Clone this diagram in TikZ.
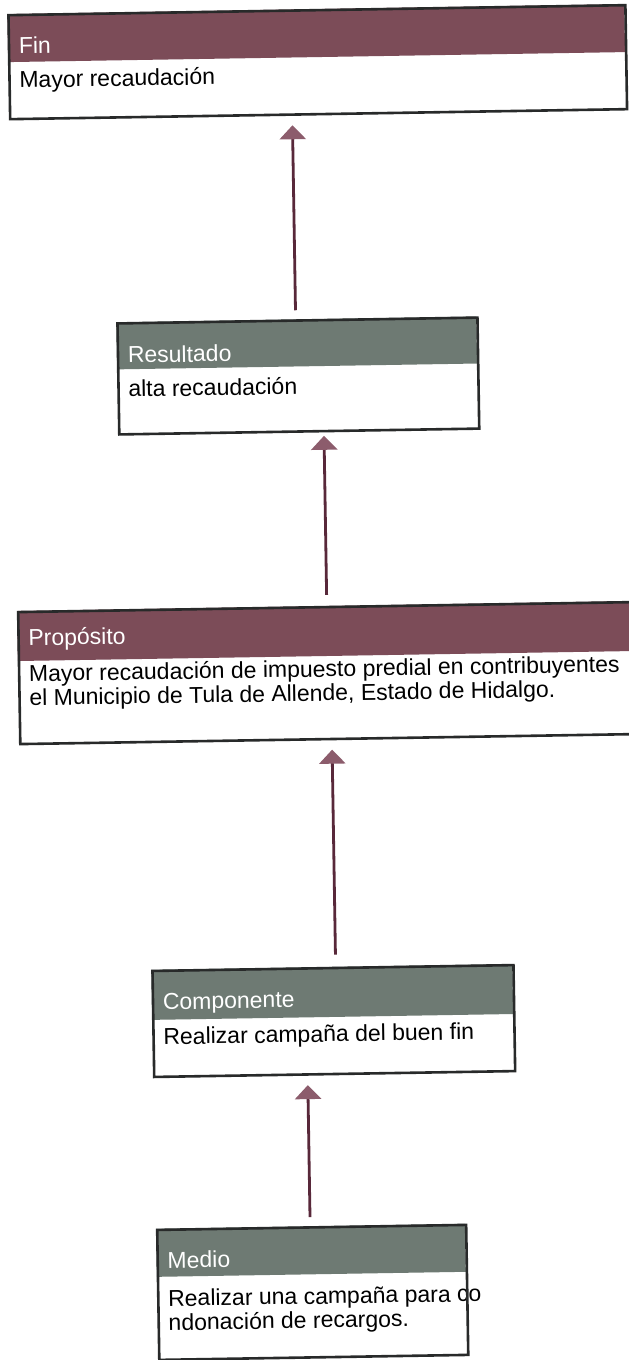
\documentclass[tikz,border=0pt]{standalone}
\usepackage{fontspec}
\setmainfont{Liberation Sans}
\usetikzlibrary{arrows.meta}
\definecolor{hdrmaroon}{RGB}{124,76,88}
\definecolor{hdrgray}{RGB}{110,122,115}
\definecolor{boxline}{RGB}{40,42,42}
\definecolor{arrline}{RGB}{88,40,58}
\definecolor{arrhead}{RGB}{140,92,108}
\begin{document}
\begin{tikzpicture}[x=1pt,y=1pt,
 boxframe/.style={draw=boxline, line width=2.6pt, rectangle, inner sep=0pt, anchor=north west},
 hdrm/.style={fill=hdrmaroon, rectangle, inner sep=0pt, anchor=north west},
 hdrg/.style={fill=hdrgray, rectangle, inner sep=0pt, anchor=north west},
 hdtext/.style={text=white, font=\fontsize{23}{24}\selectfont, inner sep=0pt, anchor=base west},
 bodytext/.style={text=black, font=\fontsize{23}{24}\selectfont, inner sep=0pt, anchor=base west, align=left},
 arrowline/.style={draw=arrline, line width=2.8pt, -{Triangle[length=14pt,width=26pt,color=arrhead]}}
]
\useasboundingbox (0,0) rectangle (629,-1360);
\fill[white] (0,0) rectangle (629,-1360);
\begin{scope}[rotate around={0.93:(314,-680)}, transform shape]
% Fin
\node[hdrm, minimum width=617pt, minimum height=48pt] (finh) at (18,-9) {};
\node[boxframe, minimum width=617pt, minimum height=104pt] (fin) at (18,-9) {};
\node[hdtext] (fint) at (29,-49) {Fin};
\node[bodytext] (finb) at (29,-83) {Mayor recaudación};
% Resultado
\node[hdrg, minimum width=360pt, minimum height=47pt] (resh) at (122,-319) {};
\node[boxframe, minimum width=360pt, minimum height=111pt] (res) at (122,-319) {};
\node[hdtext] (rest) at (133,-360) {Resultado};
\node[bodytext] (resb) at (133,-394) {alta recaudación};
% Proposito (anchor at baseline of last line)
\node[hdrm, minimum width=642pt, minimum height=50pt] (proh) at (18,-606) {};
\node[boxframe, minimum width=642pt, minimum height=132pt] (pro) at (18,-606) {};
\node[hdtext] (prot) at (29,-641) {Propósito};
\node[bodytext] (prob) at (29,-701) {Mayor recaudación de impuesto predial en contribuyentes\\el Municipio de Tula de Allende, Estado de Hidalgo.};
% Componente
\node[hdrg, minimum width=361pt, minimum height=50pt] (comh) at (146.5,-967) {};
\node[boxframe, minimum width=361pt, minimum height=106pt] (com) at (146.5,-967) {};
\node[hdtext] (comt) at (157.5,-1007) {Componente};
\node[bodytext] (comb) at (157.5,-1042) {Realizar campaña del buen fin};
% Medio
\node[hdrg, minimum width=309pt, minimum height=48pt] (medh) at (147,-1226) {};
\node[bodytext] (medb) at (158,-1328) {Realizar una campaña para co\\ndonación de recargos.};
\node[boxframe, minimum width=309pt, minimum height=130pt] (med) at (147,-1226) {};
\node[hdtext] (medt) at (158,-1266) {Medio};
% arrows
\coordinate (a1s) at (301.5,-310); \coordinate (a1e) at (301.5,-125);
\coordinate (a2s) at (328,-595);   \coordinate (a2e) at (328,-436);
\coordinate (a3s) at (331,-955);   \coordinate (a3e) at (331,-750);
\coordinate (a4s) at (301.3,-1217); \coordinate (a4e) at (301.3,-1085);
\draw[arrowline] (a1s) -- (a1e);
\draw[arrowline] (a2s) -- (a2e);
\draw[arrowline] (a3s) -- (a3e);
\draw[arrowline] (a4s) -- (a4e);
\end{scope}
\end{tikzpicture}
\end{document}
